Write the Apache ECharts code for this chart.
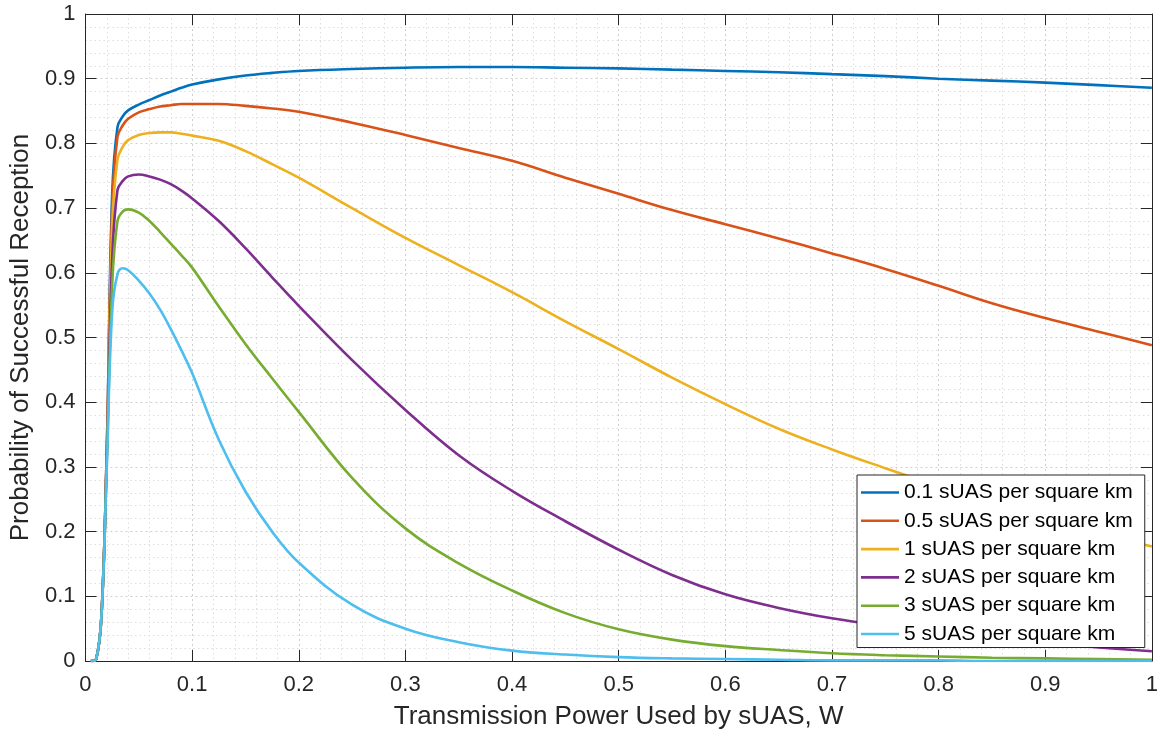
<!DOCTYPE html>
<html>
<head>
<meta charset="utf-8">
<script src="https://cdn.jsdelivr.net/npm/echarts@6/dist/echarts.min.js"></script>
<style>
    html, body { margin: 0; padding: 0; background: #fff; }
    #chart { width: 1161px; height: 736px; }
</style>
</head>
<body>
<div id="chart"></div>
<script>
// transmission power, W
var power = [0.005, 0.01, 0.015, 0.02, 0.025, 0.03, 0.035, 0.04, 0.05, 0.06, 0.07, 0.08, 0.09, 0.1,
    0.125, 0.15, 0.175, 0.2, 0.25, 0.3, 0.35, 0.4, 0.45, 0.5, 0.55, 0.6, 0.65, 0.7, 0.75, 0.8, 0.85, 0.9, 0.95, 1.0];

// probability of successful reception, one array per density
var dens01 = [0, 0.003, 0.07, 0.33, 0.72, 0.825, 0.842, 0.851, 0.86, 0.867, 0.874, 0.88, 0.886, 0.891,
    0.899, 0.905, 0.909, 0.912, 0.915, 0.917, 0.918, 0.918, 0.917, 0.916, 0.914, 0.912, 0.91, 0.907, 0.904, 0.9, 0.897, 0.894, 0.89, 0.886];
var dens05 = [0, 0.003, 0.07, 0.33, 0.70, 0.81, 0.828, 0.838, 0.848, 0.853, 0.857, 0.859, 0.861, 0.861,
    0.861, 0.858, 0.854, 0.849, 0.832, 0.813, 0.793, 0.773, 0.747, 0.722, 0.697, 0.675, 0.653, 0.63, 0.606, 0.58, 0.553, 0.53, 0.509, 0.488];
var dens1 = [0, 0.003, 0.07, 0.32, 0.67, 0.775, 0.795, 0.805, 0.813, 0.816, 0.817, 0.817, 0.815, 0.812,
    0.804, 0.788, 0.768, 0.747, 0.70, 0.654, 0.612, 0.570, 0.525, 0.482, 0.438, 0.397, 0.359, 0.327, 0.298, 0.27, 0.243, 0.218, 0.197, 0.177];
var dens2 = [0, 0.003, 0.07, 0.32, 0.62, 0.728, 0.742, 0.749, 0.752, 0.749, 0.744, 0.737, 0.727, 0.715,
    0.68, 0.638, 0.593, 0.549, 0.465, 0.388, 0.318, 0.263, 0.216, 0.172, 0.133, 0.103, 0.082, 0.066, 0.054, 0.044, 0.035, 0.028, 0.021, 0.015];
var dens3 = [0, 0.003, 0.07, 0.31, 0.58, 0.68, 0.695, 0.698, 0.693, 0.68, 0.663, 0.645, 0.627, 0.608,
    0.548, 0.49, 0.437, 0.385, 0.283, 0.205, 0.151, 0.109, 0.074, 0.049, 0.033, 0.023, 0.017, 0.012, 0.009, 0.007, 0.005, 0.004, 0.003, 0.002];
var dens5 = [0, 0.003, 0.07, 0.30, 0.54, 0.598, 0.607, 0.604, 0.588, 0.568, 0.543, 0.513, 0.48, 0.445,
    0.342, 0.262, 0.2, 0.152, 0.087, 0.05, 0.029, 0.016, 0.01, 0.006, 0.004, 0.003, 0.002, 0.001, 0.001, 0.001, 0, 0, 0, 0];

var names = ['0.1 sUAS per square km', '0.5 sUAS per square km', '1 sUAS per square km',
    '2 sUAS per square km', '3 sUAS per square km', '5 sUAS per square km'];
var colors = ['#0072BD', '#D95319', '#EDB120', '#7E2F8E', '#77AC30', '#4DBEEE'];

var font = '"Liberation Sans", Arial, Helvetica, sans-serif';
var ink = '#262626';

function pairs(ys) {
    return power.map(function (x, i) { return [x, ys[i]]; });
}

var allData = [dens01, dens05, dens1, dens2, dens3, dens5];
var series = allData.map(function (ys, i) {
    return {
        name: names[i],
        type: 'line',
        xAxisIndex: 0,
        yAxisIndex: 0,
        symbol: 'none',
        smooth: 0.4,
        data: pairs(ys),
        lineStyle: { width: 2.6, color: colors[i] },
        itemStyle: { color: colors[i] }
    };
});

// plain axis used for the box top/right ticks
function boxAxis(pos) {
    return {
        type: 'value', position: pos, min: 0, max: 1, interval: 0.1,
        axisLine: { show: true, onZero: false, lineStyle: { color: ink, width: 1 } },
        axisTick: { show: true, inside: true, length: 11, lineStyle: { color: ink } },
        axisLabel: { show: false },
        splitLine: { show: false }
    };
}

var chart = echarts.init(document.getElementById('chart'));
chart.setOption({
    backgroundColor: '#fff',
    animation: false,
    textStyle: { fontFamily: font },
    grid: { left: 80, right: 3, top: 14, bottom: 75 },
    legend: {
        orient: 'vertical',
        left: 857,
        top: 475,
        padding: [7, 12, 3, 4],
        icon: 'rect',
        itemWidth: 38,
        itemHeight: 2.6,
        itemGap: 7.3,
        backgroundColor: '#fff',
        borderColor: '#262626',
        borderWidth: 1,
        borderRadius: 0,
        textStyle: { fontFamily: font, fontSize: 21, lineHeight: 21, color: '#000' },
        data: names
    },
    xAxis: [{
        type: 'value',
        min: 0, max: 1, interval: 0.1,
        name: 'Transmission Power Used by sUAS, W',
        nameLocation: 'middle',
        nameGap: 43,
        nameTextStyle: { fontFamily: font, fontSize: 26, color: ink },
        axisLine: { show: true, onZero: false, lineStyle: { color: ink, width: 1 } },
        axisTick: { show: true, inside: true, length: 11, lineStyle: { color: ink } },
        axisLabel: { fontFamily: font, fontSize: 22, color: ink, margin: 13 },
        splitLine: { show: true, lineStyle: { color: '#cfcfcf', type: [2, 3], width: 1 } },
        minorTick: { show: false, splitNumber: 5 },
        minorSplitLine: { show: true, lineStyle: { color: '#dedede', type: [1.5, 3], width: 1 } }
    }, boxAxis('top')],
    yAxis: [{
        type: 'value',
        min: 0, max: 1, interval: 0.1,
        name: 'Probability of Successful Reception',
        nameLocation: 'middle',
        nameGap: 50,
        nameTextStyle: { fontFamily: font, fontSize: 26, color: ink },
        axisLine: { show: true, onZero: false, lineStyle: { color: ink, width: 1 } },
        axisTick: { show: true, inside: true, length: 11, lineStyle: { color: ink } },
        axisLabel: { fontFamily: font, fontSize: 22, color: ink, margin: 10 },
        splitLine: { show: true, lineStyle: { color: '#cfcfcf', type: [2, 3], width: 1 } },
        minorTick: { show: false, splitNumber: 5 },
        minorSplitLine: { show: true, lineStyle: { color: '#dedede', type: [1.5, 3], width: 1 } }
    }, boxAxis('right')],
    series: series
});
</script>
</body>
</html>
